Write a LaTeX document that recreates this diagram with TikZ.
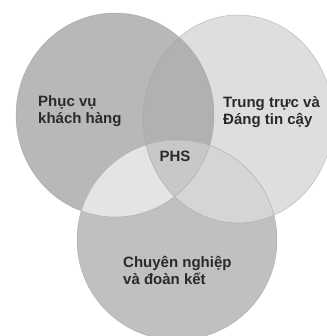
\documentclass[tikz,border=0pt]{standalone}
\usepackage{fontspec}
\setmainfont{Liberation Sans}
\definecolor{cA}{HTML}{B6B8BA}
\definecolor{cB}{HTML}{DCDEDF}
\definecolor{cC}{HTML}{BEC0C2}
\definecolor{cAB}{HTML}{AFB1B3}
\definecolor{cAC}{HTML}{E2E4E5}
\definecolor{cBC}{HTML}{D3D5D6}
\definecolor{cABC}{HTML}{C6C8CA}
\definecolor{edge}{HTML}{9A9C9E}
\definecolor{txt}{HTML}{2A2A2A}
\tikzset{
  lbl/.style={font=\fontsize{15}{17}\selectfont\bfseries, text=txt, align=left, inner sep=0pt},
  rim/.style={draw=edge, line width=0.5pt, draw opacity=0.6}
}
\begin{document}
\begin{tikzpicture}[x=1pt,y=-1pt]
\useasboundingbox (0,0) rectangle (326,336);
\def\cA{(115,115) ellipse [x radius=99, y radius=102]}
\def\cB{(238,119) ellipse [x radius=95, y radius=104]}
\def\cC{(177,240) ellipse [x radius=100, y radius=100]}
\fill[cA] \cA;
\fill[cB] \cB;
\fill[cC] \cC;
\begin{scope}
  \clip \cA;
  \fill[cAB] \cB;
\end{scope}
\begin{scope}
  \clip \cA;
  \fill[cAC] \cC;
\end{scope}
\begin{scope}
  \clip \cB;
  \fill[cBC] \cC;
\end{scope}
\begin{scope}
  \clip \cA;
  \clip \cB;
  \fill[cABC] \cC;
\end{scope}
\path[rim] \cA;
\path[rim] \cB;
\path[rim] \cC;
\node[lbl, anchor=west] (phucvu) at (38,111) {Phục vụ\\khách hàng};
\node[lbl, anchor=west] (trungtruc) at (223,112) {Trung trực và\\Đáng tin cậy};
\node[lbl] (phs) at (175,156) {PHS};
\node[lbl, anchor=west] (chuyen) at (123,270) {Chuyên nghiệp\\và đoàn kết};
\end{tikzpicture}
\end{document}
